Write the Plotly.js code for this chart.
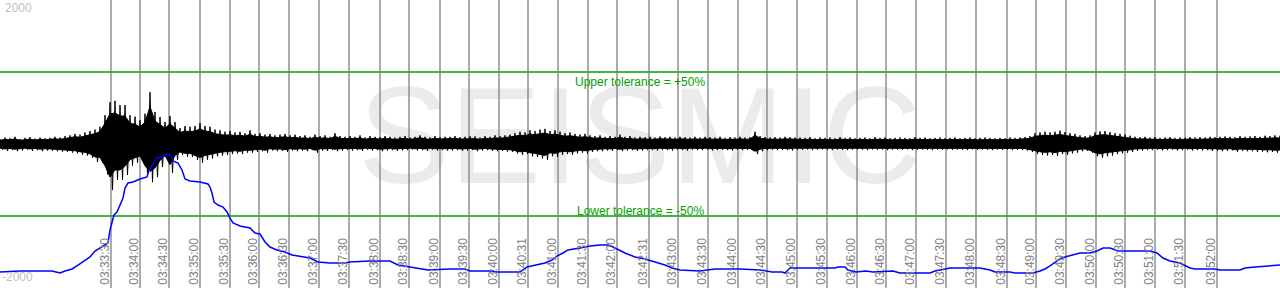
<!DOCTYPE html>
<html><head><meta charset="utf-8">
<script src="https://cdn.plot.ly/plotly-3.0.1.min.js"></script>
<style>html,body{margin:0;padding:0;background:#fff;}#chart{width:1280px;height:288px;}</style>
</head><body><div id="chart"></div>
<script>
// x axis: sample position, y axis: counts
var tickPos = [111,140,169,200,230,259,289,319,349,380,409,440,469,499,528,558,588,617,649,678,708,738,767,797,827,857,886,916,946,976,1007,1036,1066,1096,1125,1155,1185,1217];
var tickLabels = ["03:33:30","03:34:00","03:34:30","03:35:00","03:35:30","03:36:00","03:36:30","03:37:00","03:37:30","03:38:00","03:38:30","03:39:00","03:39:30","03:40:00","03:40:31","03:41:00","03:41:30","03:42:00","03:42:31","03:43:00","03:43:30","03:44:00","03:44:30","03:45:00","03:45:30","03:46:00","03:46:30","03:47:00","03:47:30","03:48:00","03:48:30","03:49:00","03:49:30","03:50:00","03:50:30","03:51:00","03:51:30","03:52:00"];

var traceStep = 5;
var traceUpper = [
70,90,80,100,70,85,95,75,90,80,
85,100,90,110,120,140,130,160,180,200,
240,400,580,600,540,540,400,380,330,420,
720,444,375,306,389,306,222,250,240,250,
290,250,240,200,190,170,180,160,170,150,
190,140,150,130,140,120,130,140,120,130,
110,120,100,130,110,120,100,150,110,100,
110,100,120,90,110,100,95,110,100,90,
100,110,90,100,120,100,90,110,95,100,
100,110,95,100,110,105,90,110,100,120,
110,120,130,150,170,160,190,180,200,210,
180,190,170,150,160,140,130,140,120,110,
120,100,110,100,130,100,110,90,100,95,
100,90,105,95,100,90,100,95,90,100,
90,100,95,90,100,85,95,90,100,90,
95,170,110,95,90,95,90,100,95,90,
90,85,95,80,90,85,90,80,95,85,
90,80,85,90,80,95,85,90,80,85,
90,85,80,95,85,90,80,85,90,80,
85,90,80,85,90,80,85,90,85,80,
85,80,90,85,90,95,110,150,160,170,
160,170,185,165,150,140,120,110,120,160,
175,180,165,150,140,130,115,100,95,100,
90,95,85,90,95,85,90,85,95,90,
95,90,100,95,100,105,100,95,110,100,
105,110,100,115,110,120,115];
var traceLower = [
80,95,85,100,90,80,95,85,100,90,
95,100,105,110,120,130,150,160,190,250,
260,420,640,500,500,430,300,260,230,420,
530,460,320,222,400,222,153,180,180,222,
260,220,200,170,160,150,140,130,140,120,
120,110,100,120,90,100,95,110,90,100,
90,100,85,120,90,95,85,100,90,85,
90,85,95,80,90,85,100,90,85,95,
90,85,80,90,85,95,80,90,85,90,
90,85,95,90,85,100,90,85,95,100,
95,105,110,130,150,140,170,180,200,220,
170,180,150,140,150,130,120,130,110,100,
100,90,95,85,100,90,85,95,90,85,
85,90,80,85,90,80,85,90,80,85,
85,80,90,85,80,85,90,80,85,80,
85,140,100,85,80,85,80,85,90,80,
80,75,85,80,75,80,85,75,80,85,
80,75,80,85,75,80,75,85,80,75,
80,75,85,80,75,80,85,75,80,75,
80,75,80,85,75,80,75,80,85,75,
80,75,85,80,85,90,110,140,150,160,
150,165,140,150,130,120,100,95,120,170,
190,170,160,140,130,120,110,95,90,85,
85,80,90,85,80,90,85,80,90,85,
90,85,95,90,100,95,90,110,95,100,
100,110,105,115,110,120,115];

var blueX = [0,20,52,60,65,72,78,85,90,95,100,105,108,110,112,114,117,120,123,125,128,133,140,147,149,152,157,162,168,171,173,178,182,185,190,200,208,210,212,214,218,223,227,230,233,240,250,255,260,265,270,277,285,292,300,310,318,330,345,350,370,390,398,410,420,428,450,465,470,493,495,520,527,535,545,552,557,563,568,580,590,600,608,613,620,625,635,645,655,665,672,680,700,715,740,760,772,782,785,790,835,838,845,848,856,866,873,893,900,930,935,945,950,980,990,995,1010,1015,1033,1040,1045,1050,1055,1060,1065,1072,1080,1090,1097,1103,1110,1118,1150,1157,1163,1170,1180,1190,1195,1215,1220,1240,1245,1255,1280];
var blueY = [-1778,-1764,-1764,-1792,-1764,-1736,-1681,-1611,-1569,-1486,-1444,-1403,-1375,-1194,-1083,-986,-944,-847,-750,-611,-542,-528,-486,-458,-361,-306,-194,-181,-139,-167,-236,-264,-361,-486,-514,-528,-556,-597,-681,-806,-847,-875,-944,-1028,-1097,-1139,-1167,-1236,-1250,-1361,-1431,-1472,-1500,-1542,-1556,-1583,-1639,-1653,-1653,-1639,-1625,-1625,-1681,-1708,-1722,-1750,-1736,-1736,-1764,-1764,-1778,-1778,-1708,-1681,-1653,-1611,-1556,-1514,-1472,-1444,-1417,-1403,-1403,-1431,-1486,-1514,-1569,-1597,-1639,-1681,-1722,-1750,-1764,-1736,-1736,-1750,-1778,-1778,-1792,-1722,-1722,-1708,-1708,-1750,-1778,-1764,-1778,-1764,-1792,-1792,-1764,-1736,-1722,-1722,-1750,-1778,-1778,-1792,-1792,-1764,-1736,-1694,-1639,-1597,-1569,-1542,-1514,-1514,-1486,-1444,-1444,-1486,-1486,-1514,-1583,-1625,-1653,-1722,-1736,-1736,-1750,-1750,-1722,-1708,-1681];

var yMin = -2000, yMax = 2000;
var upperTol = 1000, lowerTol = -1000;
var watermark = "SEISMIC";

var FONT = "Liberation Sans, Arial, sans-serif";

// solid core of the trace (inner part of the envelope) + spiky zigzag between envelope extremes
var coreFrac = 0.72;
var tx = traceUpper.map(function(_, i){ return i * traceStep; });
var coreUp = traceUpper.map(function(v){ return v * coreFrac; });
var coreLo = traceLower.map(function(v){ return -v * coreFrac; });
var zx = [], zy = [];
traceUpper.forEach(function(v, i){
  zx.push(i * traceStep); zy.push(v);
  zx.push(i * traceStep + traceStep / 2); zy.push(-traceLower[i]);
});

var gx = [], gy = [];
tickPos.forEach(function(p){ gx.push(p, p, null); gy.push(yMin, yMax, null); });

var data = [
  {x:[640], y:[-60], mode:'text', text:[watermark], textposition:'middle center',
   textfont:{family:FONT, size:137, color:'#ebebeb'}, hoverinfo:'skip', showlegend:false},
  {x:gx, y:gy, mode:'lines', line:{color:'#7f7f7f', width:1.3}, hoverinfo:'skip', showlegend:false},
  {x:tx, y:coreLo, mode:'lines', line:{color:'#000', width:1}, hoverinfo:'skip', showlegend:false},
  {x:tx, y:coreUp, mode:'lines', fill:'tonexty', fillcolor:'#000', line:{color:'#000', width:1}, hoverinfo:'skip', showlegend:false},
  {x:zx, y:zy, mode:'lines', line:{color:'#000', width:1}, hoverinfo:'skip', showlegend:false},
  {x:blueX, y:blueY, mode:'lines', line:{color:'#0000ff', width:1.5}, hoverinfo:'skip', showlegend:false}
];

var layout = {
  width:1280, height:288, margin:{l:0,r:0,t:0,b:0},
  paper_bgcolor:'#fff', plot_bgcolor:'#fff', showlegend:false,
  xaxis:{range:[0,1280], showgrid:false, zeroline:false, showline:false,
    tickmode:'array', tickvals:tickPos, ticktext:tickLabels, tickangle:-90,
    ticklabelposition:'inside', ticklabelshift:-6, ticklabelstandoff:-4, ticks:'',
    tickfont:{family:FONT, size:12, color:'#808080'}},
  yaxis:{range:[yMin,yMax], showgrid:false, zeroline:false, showticklabels:false,
    showline:true, linecolor:'#000', linewidth:3, ticks:''},
  shapes:[
    {type:'line', xref:'paper', x0:0, x1:1, yref:'y', y0:upperTol, y1:upperTol, line:{color:'#00a000', width:1.5}, layer:'below'},
    {type:'line', xref:'paper', x0:0, x1:1, yref:'y', y0:lowerTol, y1:lowerTol, line:{color:'#00a000', width:1.5}, layer:'below'}
  ],
  annotations:[
    {text:'Upper tolerance = +50%', xref:'paper', x:0.5, yref:'y', y:upperTol, yanchor:'top', xanchor:'center', showarrow:false, yshift:-1,
     font:{family:FONT, size:12, color:'#00a000'}},
    {text:'Lower tolerance = -50%', xref:'paper', x:0.5, yref:'y', y:lowerTol, yanchor:'bottom', xanchor:'center', showarrow:false, yshift:-4,
     font:{family:FONT, size:12, color:'#00a000'}},
    {text:String(yMax), xref:'paper', x:0, xanchor:'left', xshift:3, yref:'paper', y:1, yanchor:'top', yshift:1, showarrow:false,
     font:{family:FONT, size:12, color:'#c0c0c0'}},
    {text:String(yMin), xref:'paper', x:0, xanchor:'left', xshift:0, yref:'paper', y:0, yanchor:'bottom', yshift:2, showarrow:false,
     font:{family:FONT, size:12, color:'#c0c0c0'}}
  ]
};

Plotly.newPlot('chart', data, layout, {staticPlot:true, displayModeBar:false});
</script>
</body></html>
